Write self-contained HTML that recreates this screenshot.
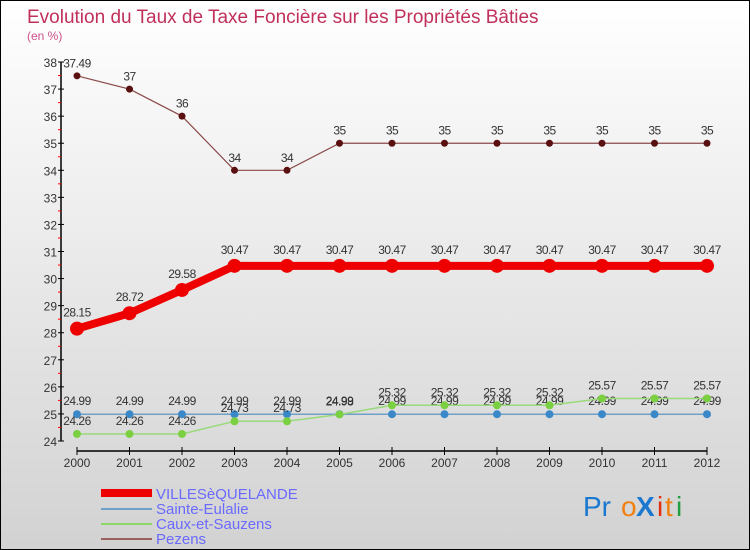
<!DOCTYPE html>
<html><head><meta charset="utf-8"><style>
body{margin:0;}
#wrap{width:748px;height:548px;border:1px solid #000;background:linear-gradient(#fff,#d2d2d2);position:relative;font-family:"Liberation Sans",sans-serif;overflow:hidden}
</style></head><body>
<div id="wrap">
<svg id="svg" width="748" height="548" xmlns="http://www.w3.org/2000/svg">
<text x="26" y="22" font-size="19" fill="#c0305a">Evolution du Taux de Taxe Foncière sur les Propriétés Bâties</text>
<text x="26" y="39" font-size="12" fill="#d0508a">(en %)</text>
<g id="axes"></g><g id="series"></g>
<g>
<rect x="100" y="488" width="51" height="8" fill="#e00"/>
<text x="155" y="498" font-size="15" fill="#6a6aff">VILLESèQUELANDE</text>
<rect x="100" y="507" width="51" height="2" fill="#6fa0c8"/>
<text x="155" y="513" font-size="15" fill="#6a6aff">Sainte-Eulalie</text>
<rect x="100" y="522" width="51" height="2" fill="#8ed86a"/>
<text x="155" y="528" font-size="15" fill="#6a6aff">Caux-et-Sauzens</text>
<rect x="100" y="537" width="51" height="2" fill="#9a6060"/>
<text x="155" y="543" font-size="15" fill="#6a6aff">Pezens</text>
</g>
<g font-size="28" font-family="'Liberation Sans',sans-serif">
<text x="582" y="515" fill="#1a78d0">Pr</text><text x="620" y="515" fill="#f08010">o</text><text x="635" y="515" fill="#1a78d0" font-weight="bold">X</text><text x="656" y="515" fill="#e03010">i</text><text x="664" y="515" fill="#f08010">t</text><text x="675" y="515" fill="#20a040">i</text>
</g>
</svg>
</div>
<script>
const years=[2000,2001,2002,2003,2004,2005,2006,2007,2008,2009,2010,2011,2012];
const yTicks=[24,25,26,27,28,29,30,31,32,33,34,35,36,37,38];
const villes=[28.15,28.72,29.58,30.47,30.47,30.47,30.47,30.47,30.47,30.47,30.47,30.47,30.47];
const sainte=[24.99,24.99,24.99,24.99,24.99,24.99,24.99,24.99,24.99,24.99,24.99,24.99,24.99];
const caux=[24.26,24.26,24.26,24.73,24.73,24.98,25.32,25.32,25.32,25.32,25.57,25.57,25.57];
const pezens=[37.49,37,36,34,34,35,35,35,35,35,35,35,35];
const NS="http://www.w3.org/2000/svg";
function xs(i){return 76+i*52.5;}
function ys(v){return 440-(v-24)*27.07;}
function mk(tag,attrs,parent){const e=document.createElementNS(NS,tag);for(const k in attrs)e.setAttribute(k,attrs[k]);parent.appendChild(e);return e;}
const ax=document.getElementById('axes');
let l=mk('line',{x1:60,y1:ys(38),x2:60,y2:ys(24),stroke:'#000','stroke-width':1.5},ax);


l=mk('line',{x1:xs(0),y1:450,x2:xs(12),y2:450,stroke:'#000','stroke-width':1.5},ax);


yTicks.forEach((v,i)=>{
 mk('line',{x1:57,y1:ys(v),x2:63,y2:ys(v),stroke:'#000'},ax);
 if(i<yTicks.length-1)mk('line',{x1:57,y1:ys(v+0.5),x2:60,y2:ys(v+0.5),stroke:'#f00'},ax);
 const t=mk('text',{x:56,y:ys(v)+5,'font-size':12,'text-anchor':'end',fill:'#333'},ax);
 t.textContent=v;
 
 
});
years.forEach((y,i)=>{
 mk('line',{x1:xs(i),y1:446,x2:xs(i),y2:454,stroke:'#000'},ax);
 const t=mk('text',{x:xs(i),y:466,'font-size':12,'text-anchor':'middle',fill:'#333'},ax);
 t.textContent=y;
 
 
});
const sg=document.getElementById('series');
function series(vals,name,color,w,r,fill){
 const g=mk('g',{},sg);
 
 
 const pl=mk('polyline',{points:vals.map((v,i)=>xs(i)+','+ys(v)).join(' '),fill:'none',stroke:color,'stroke-width':w},g);
 
 
 vals.forEach((v,i)=>{
  const c=mk('circle',{cx:xs(i),cy:ys(v),r:r,fill:fill},g);
  
  
  const t=mk('text',{x:xs(i),y:ys(v)-r-5,'font-size':12,'text-anchor':'middle',fill:'#333','letter-spacing':'-0.5'},g);
  t.textContent=v;
  
  
 });
}
series(sainte,'sainte-eulalie','#6fa0c8',1.5,4,'#3a88c8');
series(caux,'caux-et-sauzens','#9ada7a',1.5,4,'#7ad040');
series(pezens,'pezens','#8a4a4a',1.2,3.5,'#5a1010');
series(villes,'villesequelande','#e00',8,7,'#e00');
</script>
</body></html>
